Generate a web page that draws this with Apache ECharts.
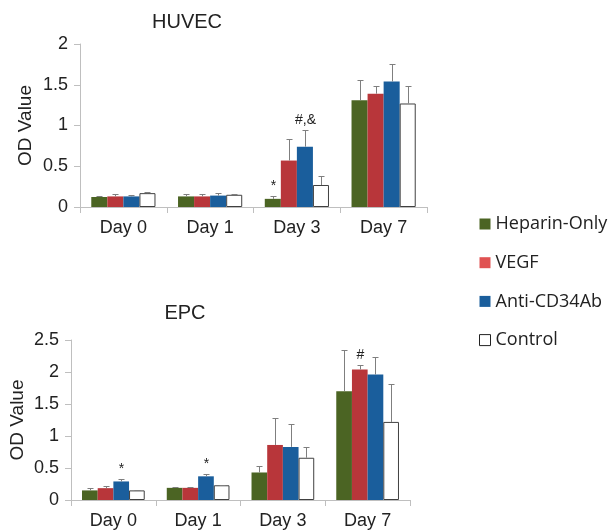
<!DOCTYPE html>
<html><head><meta charset="utf-8">
<script src="https://cdn.jsdelivr.net/npm/echarts@6/dist/echarts.min.js"></script>
<style>html,body{margin:0;padding:0;background:#fff}#c{width:613px;height:530px}</style>
</head><body><div id="c"></div>
<script>
const days = ['Day 0', 'Day 1', 'Day 3', 'Day 7'];
const groups = ['Heparin-Only', 'VEGF', 'Anti-CD34Ab', 'Control'];
const yTicksTop = [0, 0.5, 1, 1.5, 2];
const yTicksBottom = [0, 0.5, 1, 1.5, 2, 2.5];

// HUVEC
const huvecHeparin = [0.123, 0.13, 0.10, 1.31];
const huvecVEGF    = [0.13, 0.13, 0.57, 1.39];
const huvecAnti    = [0.13, 0.14, 0.74, 1.54];
const huvecControl = [0.17, 0.15, 0.27, 1.27];
const huvecHeparinErr = [0.015, 0.025, 0.04, 0.25];
const huvecVEGFErr    = [0.025, 0.025, 0.27, 0.09];
const huvecAntiErr    = [0.015, 0.035, 0.20, 0.22];
const huvecControlErr = [0.01, 0.015, 0.11, 0.22];
const huvecHeparinMark = ['', '', '*', ''];
const huvecVEGFMark    = ['', '', '', ''];
const huvecAntiMark    = ['', '', '#,&', ''];
const huvecControlMark = ['', '', '', ''];

// EPC
const epcHeparin = [0.15, 0.19, 0.43, 1.70];
const epcVEGF    = [0.185, 0.19, 0.86, 2.04];
const epcAnti    = [0.29, 0.37, 0.83, 1.96];
const epcControl = [0.15, 0.23, 0.66, 1.22];
const epcHeparinErr = [0.04, 0.02, 0.10, 0.64];
const epcVEGFErr    = [0.035, 0.015, 0.42, 0.07];
const epcAntiErr    = [0.04, 0.04, 0.35, 0.27];
const epcControlErr = [0.01, 0.005, 0.17, 0.59];
const epcHeparinMark = ['', '', '', ''];
const epcVEGFMark    = ['', '', '', '#'];
const epcAntiMark    = ['*', '*', '', ''];
const epcControlMark = ['', '', '', ''];

const barColors = ['#4b6423', '#b8363a', '#1a5e9c', '#ffffff'];
const legendColors = ['#4b6423', '#e05252', '#1a5e9c', '#ffffff'];
const GAP = 0.26;
const FONT = 'Liberation Sans';

const chart = echarts.init(document.getElementById('c'), null, {renderer: 'canvas'});

function barSeries(gi, vals, idx) {
  const s = {
    name: groups[gi], type: 'bar', xAxisIndex: idx, yAxisIndex: idx,
    data: vals, barGap: '0%', barCategoryGap: (GAP * 100) + '%',
    itemStyle: {color: barColors[gi]}, emphasis: {disabled: true}
  };
  if (gi === 3) s.itemStyle = {color: '#ffffff', borderColor: '#404040', borderWidth: 1};
  return s;
}
function errSeries(idx, valsArr, errArr, markArr) {
  const data = [];
  for (let g = 0; g < 4; g++) for (let d = 0; d < 4; d++) {
    data.push([d, g, valsArr[g][d], errArr[g][d], markArr[g][d]]);
  }
  return {
    type: 'custom', xAxisIndex: idx, yAxisIndex: idx, z: 10, silent: true,
    encode: {x: 0, y: 2},
    data: data,
    renderItem: function (params, api) {
      const d = api.value(0), g = api.value(1), v = api.value(2), e = api.value(3);
      const mark = data[params.dataIndex][4];
      const base = api.coord([d, v]);
      const top = api.coord([d, v + e]);
      const band = api.size([1, 0])[0];
      const bw = band * (1 - GAP) / 4;
      const x = Math.round(base[0] + (g - 1.5) * bw) + 0.5;
      const ty = Math.round(top[1]) + 0.5;
      const st = {stroke: '#7f7f7f', lineWidth: 1};
      const children = [
        {type: 'line', shape: {x1: x, y1: base[1], x2: x, y2: ty}, style: st},
        {type: 'line', shape: {x1: x - 3, y1: ty, x2: x + 3, y2: ty}, style: st}
      ];
      if (mark) {
        children.push({type: 'text', style: {text: mark, x: x, y: ty - 3, align: 'center', verticalAlign: 'bottom',
          font: '14px "' + FONT + '"', fill: '#222'}});
      }
      return {type: 'group', children: children};
    }
  };
}

const axisLineStyle = {color: '#bfbfbf', width: 1};
function xAxis(idx) {
  return {type: 'category', gridIndex: idx, data: days,
    axisLine: {lineStyle: axisLineStyle}, axisTick: {show: true, length: 6, lineStyle: axisLineStyle, alignWithLabel: false},
    axisLabel: {fontSize: 18, fontFamily: FONT, color: '#222', margin: 12}};
}
function yAxis(idx, max, ticks, gap) {
  return {type: 'value', gridIndex: idx, min: ticks[0], max: max, interval: ticks[1] - ticks[0],
    name: 'OD Value', nameLocation: 'middle', nameGap: gap, nameRotate: 90, nameMoveOverlap: false,
    nameTextStyle: {fontSize: 19, fontFamily: FONT, color: '#222'},
    axisLine: {show: true, lineStyle: axisLineStyle}, axisTick: {show: true, length: 6, lineStyle: axisLineStyle},
    splitLine: {show: false},
    axisLabel: {fontSize: 18, fontFamily: FONT, color: '#222', margin: 12}};
}

const option = {
  animation: false,
  backgroundColor: '#fff',
  title: [
    {text: 'HUVEC', left: 187, top: 12, padding: 0, textAlign: 'center', textStyle: {fontSize: 20, fontWeight: 'normal', fontFamily: FONT, color: '#222'}},
    {text: 'EPC', left: 185, top: 303, padding: 0, textAlign: 'center', textStyle: {fontSize: 20, fontWeight: 'normal', fontFamily: FONT, color: '#222'}}
  ],
  legend: {
    orient: 'vertical', left: 479, top: 215, padding: 0, itemWidth: 11, itemHeight: 11, itemGap: 20.7,
    textStyle: {fontSize: 18, fontFamily: 'Open Sans', color: '#222'},
    selectedMode: false,
    data: groups.map((n, i) => ({name: n, icon: 'rect',
      itemStyle: i === 3 ? {color: '#fff', borderColor: '#222', borderWidth: 1} : {color: legendColors[i], borderWidth: 0}}))
  },
  grid: [
    {left: 80, right: 186, top: 44, height: 163},
    {left: 71, right: 203, top: 340, height: 162}
  ],
  xAxis: [xAxis(0), xAxis(1)],
  yAxis: [yAxis(0, 2, yTicksTop, 45), yAxis(1, 2.5, yTicksBottom, 44)],
  series: [
    barSeries(0, huvecHeparin, 0), barSeries(1, huvecVEGF, 0), barSeries(2, huvecAnti, 0), barSeries(3, huvecControl, 0),
    barSeries(0, epcHeparin, 1), barSeries(1, epcVEGF, 1), barSeries(2, epcAnti, 1), barSeries(3, epcControl, 1),
    errSeries(0, [huvecHeparin, huvecVEGF, huvecAnti, huvecControl],
      [huvecHeparinErr, huvecVEGFErr, huvecAntiErr, huvecControlErr],
      [huvecHeparinMark, huvecVEGFMark, huvecAntiMark, huvecControlMark]),
    errSeries(1, [epcHeparin, epcVEGF, epcAnti, epcControl],
      [epcHeparinErr, epcVEGFErr, epcAntiErr, epcControlErr],
      [epcHeparinMark, epcVEGFMark, epcAntiMark, epcControlMark])
  ]
};
chart.setOption(option);
</script></body></html>
